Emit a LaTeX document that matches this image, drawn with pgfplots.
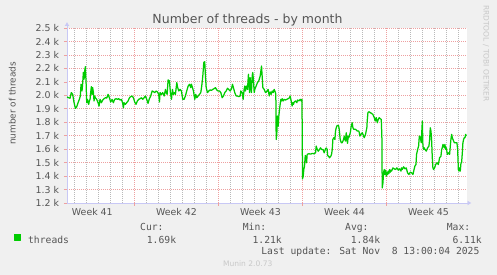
\documentclass[border=0pt]{standalone}
\usepackage{fontspec}
\setmainfont{DejaVu Sans}
\newfontfamily\monofont{DejaVu Sans Mono}
\usepackage{pgfplots}
\pgfplotsset{compat=1.18}
\usetikzlibrary{arrows.meta}
\definecolor{bg}{RGB}{240,240,240}
\definecolor{txt}{RGB}{85,85,85}
\definecolor{mgrid}{RGB}{238,160,160}
\definecolor{ngrid}{RGB}{185,185,185}
\definecolor{axisc}{RGB}{200,200,245}
\definecolor{thr}{RGB}{0,204,0}
\definecolor{faint}{RGB}{200,200,200}
\begin{document}
\begin{tikzpicture}
\path[use as bounding box, fill=bg] (0pt,0pt) rectangle (497pt,275pt);
\begin{axis}[
  at={(67pt,72pt)}, anchor=south west,
  scale only axis, width=400pt, height=175pt,
  xmin=1.39, xmax=34.70, ymin=1.2, ymax=2.5,
  axis background/.style={fill=white},
  axis x line=bottom, axis y line=left,
  axis line style={axisc, line width=0.8pt},
  x axis line style={-{Latex[length=4pt,width=5pt]}, shorten >=-4.5pt},
  y axis line style={-{Latex[length=4pt,width=5pt]}, shorten >=-6pt},
  tick align=outside,
  major tick length=3pt, minor tick length=2.5pt,
  xtick={3.5,10.5,17.5,24.5,31.5},
  xticklabels={Week 41,Week 42,Week 43,Week 44,Week 45},
  xtick style={draw=none},
  minor xtick={2,3,4,5,6,8,9,10,11,12,13,15,16,17,18,19,20,22,23,24,25,26,27,29,30,31,32,33,34},
  minor x tick style={ngrid, line width=0.6pt},
  xminorgrids=true,
  minor grid style={ngrid, dash pattern=on 1pt off 1pt, line width=0.7pt},
  extra x ticks={7,14,21,28},
  extra x tick labels={},
  extra x tick style={grid=major, xtick style={draw=mgrid, line width=0.6pt}},
  ytick={1.2,1.3,1.4,1.5,1.6,1.7,1.8,1.9,2.0,2.1,2.2,2.3,2.4,2.5},
  yticklabels={1.2 k,1.3 k,1.4 k,1.5 k,1.6 k,1.7 k,1.8 k,1.9 k,2.0 k,2.1 k,2.2 k,2.3 k,2.4 k,2.5 k},
  ytick style={mgrid, line width=0.6pt},
  ymajorgrids=true,
  major grid style={mgrid, dash pattern=on 1pt off 1pt, line width=0.7pt},
  yticklabel style={font=\fontsize{9.4}{11}\selectfont, text=txt, inner sep=0pt, anchor=east, xshift=-4.7pt},
  xticklabel style={font=\fontsize{9.4}{11}\selectfont, text=txt, inner sep=0pt, anchor=north, yshift=-2.5pt},
  legend image code/.code={\fill[thr] (0pt,0.6pt) rectangle (6pt,6.6pt);},
  legend style={at={(axis description cs:-0.1325,-0.209)}, anchor=west, draw=none, fill=none,
    inner sep=0pt, font=\monofont\fontsize{9.7}{11}\selectfont, text=txt,
    nodes={inner sep=0pt, text=txt},
    /tikz/every odd column/.append style={column sep=6.7pt}},
]
\addplot[thr, line width=1.25pt, line join=round] coordinates {
(1.39,1.987) (1.53,1.982) (1.64,1.978) (1.75,2.020) (1.86,2.007) (1.98,1.945) (2.09,1.903) (2.20,1.915) (2.31,1.945) (2.42,1.970) (2.50,1.995) (2.56,2.082) (2.64,2.032) (2.70,2.094) (2.75,2.169) (2.81,2.119) (2.86,2.181) (2.92,2.213) (2.98,2.094) (3.03,1.945) (3.09,1.970) (3.14,1.950) (3.20,1.933) (3.25,1.958) (3.31,1.970) (3.36,2.020) (3.42,2.064) (3.48,2.007) (3.53,2.057) (3.59,2.020) (3.64,1.958) (3.70,1.995) (3.75,1.982) (3.86,1.970) (3.98,1.945) (4.06,1.920) (4.14,1.970) (4.25,1.945) (4.36,1.965) (4.48,1.975) (4.59,1.982) (4.70,1.980) (4.81,2.007) (4.92,1.982) (5.03,1.950) (5.14,1.970) (5.25,1.945) (5.36,1.970) (5.48,1.975) (5.59,1.970) (5.70,1.975) (5.81,1.965) (5.92,1.970) (6.03,1.940) (6.09,1.908) (6.14,1.945) (6.25,1.933) (6.36,1.945) (6.48,1.958) (6.59,1.982) (6.70,1.990) (6.81,1.995) (6.92,1.982) (7.03,1.950) (7.14,1.933) (7.25,1.958) (7.36,1.970) (7.48,1.975) (7.59,1.982) (7.70,1.970) (7.81,1.982) (7.92,1.995) (8.03,1.970) (8.14,1.940) (8.25,1.975) (8.36,1.995) (8.48,2.032) (8.59,2.027) (8.70,2.020) (8.81,2.032) (8.92,2.025) (9.03,2.007) (9.09,1.950) (9.14,2.020) (9.25,2.007) (9.36,2.020) (9.48,1.995) (9.59,2.044) (9.64,2.020) (9.73,2.007)
(9.81,2.114) (9.92,2.107) (10.00,2.020) (10.09,1.970) (10.17,2.044) (10.25,2.007) (10.34,2.020) (10.42,2.007) (10.53,2.094) (10.61,2.057) (10.70,2.032) (10.81,2.044) (10.92,2.032) (11.03,1.970) (11.14,1.970) (11.25,1.995) (11.36,2.032) (11.48,2.069) (11.59,2.082) (11.70,2.057) (11.75,2.082) (11.84,2.057) (11.92,2.032) (12.03,1.970) (12.11,2.007) (12.20,1.982) (12.31,1.995) (12.42,2.007) (12.53,2.020) (12.61,2.069) (12.70,2.144) (12.78,2.243) (12.86,2.250) (12.92,2.144) (12.98,2.057) (13.09,2.020) (13.20,2.032) (13.31,2.040) (13.42,2.037) (13.53,2.044) (13.64,2.049) (13.75,2.057) (13.86,2.040) (13.98,2.032) (14.09,2.032) (14.20,2.020) (14.31,1.982) (14.42,1.995) (14.53,2.020) (14.64,2.032) (14.75,2.052) (14.86,2.044) (14.98,2.032) (15.09,2.049) (15.17,2.082) (15.25,2.057) (15.36,2.020) (15.48,1.995) (15.59,1.995) (15.70,1.990) (15.81,1.995) (15.86,2.032) (15.98,2.020) (16.06,1.970) (16.14,2.044) (16.20,2.069) (16.25,2.032) (16.34,2.069) (16.42,2.044) (16.50,2.156) (16.59,2.020) (16.64,2.131) (16.70,2.069) (16.75,2.020) (16.81,2.144) (16.86,2.169) (16.92,2.107) (16.98,2.020) (17.03,2.044) (17.14,2.069) (17.25,2.094) (17.36,2.107) (17.48,2.144) (17.59,2.218) (17.64,2.144) (17.70,2.057) (17.81,2.044) (17.92,2.020) (18.06,2.032)
(18.14,2.044) (18.23,1.995) (18.31,2.025) (18.39,2.007) (18.48,2.032) (18.56,2.020) (18.64,2.044) (18.73,2.025) (18.78,2.007) (18.81,1.672) (18.86,1.710) (18.92,1.846) (18.98,1.771) (19.03,1.846) (19.09,1.896) (19.14,1.933) (19.20,1.970) (19.25,1.958) (19.31,1.975) (19.39,1.958) (19.48,1.970) (19.59,1.965) (19.70,1.970) (19.81,1.975) (19.92,1.982) (19.98,1.995) (20.03,1.970) (20.09,1.945) (20.14,1.920) (20.20,1.945) (20.25,1.933) (20.31,1.950) (20.42,1.958) (20.53,1.945) (20.59,1.965) (20.70,1.958) (20.81,1.970) (20.89,1.958) (20.95,1.970) (20.98,1.747) (21.00,1.379) (21.06,1.399) (21.11,1.449) (21.17,1.474) (21.23,1.553) (21.28,1.536) (21.34,1.499) (21.39,1.561) (21.53,1.566) (21.67,1.563) (21.81,1.568) (21.95,1.566) (22.09,1.573) (22.14,1.623) (22.23,1.598) (22.31,1.585) (22.42,1.598) (22.50,1.610) (22.59,1.598) (22.70,1.598) (22.81,1.573) (22.92,1.603) (22.98,1.608) (23.06,1.598) (23.09,1.553) (23.17,1.548) (23.25,1.536) (23.36,1.548) (23.42,1.561) (23.48,1.598) (23.53,1.672) (23.61,1.685) (23.70,1.672) (23.75,1.734) (23.81,1.759) (23.89,1.776) (24.00,1.776) (24.06,1.747) (24.14,1.672) (24.23,1.648) (24.31,1.648) (24.42,1.672) (24.48,1.697) (24.53,1.672) (24.59,1.660) (24.64,1.722) (24.70,1.685) (24.75,1.643) (24.81,1.697) (24.86,1.685) (24.98,1.722) (25.06,1.771) (25.14,1.796) (25.20,1.759) (25.28,1.747) (25.42,1.747) (25.56,1.734) (25.70,1.734) (25.78,1.697) (25.86,1.710) (25.98,1.722) (26.09,1.697) (26.14,1.685) (26.25,1.710) (26.36,1.759)
(26.39,1.809) (26.45,1.871) (26.53,1.878) (26.64,1.871) (26.75,1.866) (26.86,1.858) (26.98,1.834) (27.06,1.809) (27.14,1.834) (27.23,1.796) (27.31,1.821) (27.39,1.834) (27.48,1.826) (27.56,1.821) (27.61,1.697) (27.64,1.312) (27.70,1.350) (27.75,1.424) (27.81,1.449) (27.86,1.412) (27.92,1.444) (27.98,1.399) (28.03,1.429) (28.09,1.412) (28.14,1.437) (28.20,1.419) (28.25,1.449) (28.31,1.429) (28.36,1.444) (28.42,1.437) (28.53,1.461) (28.64,1.454) (28.75,1.449) (28.86,1.461) (28.98,1.444) (29.09,1.454) (29.20,1.437) (29.25,1.461) (29.31,1.449) (29.42,1.469) (29.53,1.454) (29.64,1.461) (29.75,1.424) (29.86,1.412) (29.98,1.429) (30.09,1.424) (30.20,1.412) (30.28,1.444) (30.36,1.474) (30.45,1.486) (30.50,1.561) (30.59,1.598) (30.67,1.623) (30.73,1.697) (30.78,1.692) (30.84,1.672) (30.89,1.648) (30.98,1.809) (31.03,1.623) (31.09,1.598) (31.14,1.610) (31.20,1.598) (31.31,1.585) (31.42,1.610) (31.53,1.623) (31.59,1.672) (31.64,1.759) (31.70,1.734) (31.75,1.672) (31.81,1.536) (31.86,1.461) (31.92,1.449) (32.00,1.461) (32.09,1.486) (32.20,1.499) (32.31,1.486) (32.42,1.536) (32.53,1.548) (32.59,1.598) (32.64,1.610) (32.70,1.635) (32.75,1.623) (32.81,1.610) (32.86,1.635) (32.92,1.598) (32.98,1.610) (33.06,1.561) (33.14,1.573) (33.25,1.561) (33.31,1.623) (33.36,1.672) (33.42,1.710) (33.48,1.685) (33.53,1.672) (33.59,1.660) (33.64,1.648) (33.75,1.648) (33.86,1.648) (33.92,1.598) (33.98,1.449) (34.03,1.437) (34.09,1.461) (34.14,1.437) (34.20,1.499) (34.25,1.499) (34.31,1.573) (34.36,1.648) (34.42,1.672) (34.47,1.685) (34.53,1.685) (34.59,1.710) (34.64,1.697)
};
\addlegendentry{threads}
\end{axis}
\node[anchor=base, inner sep=0pt, text=txt, font=\fontsize{12.5}{14}\selectfont] at (247.5pt,251pt) {Number of threads - by month};
\node[anchor=base, rotate=90, inner sep=0pt, text=txt, font=\fontsize{8.9}{10}\selectfont] at (15.7pt,171.5pt) {number of threads};
\begin{scope}[every node/.style={anchor=base west, inner sep=0pt, text=txt, font=\monofont\fontsize{9.7}{11}\selectfont}]
\node at (140pt,44pt) {Cur:};
\node at (146.7pt,31.7pt) {1.69k};
\node at (242.7pt,44pt) {Min:};
\node at (252.4pt,31.7pt) {1.21k};
\node at (345pt,44pt) {Avg:};
\node at (350.7pt,31.7pt) {1.84k};
\node at (446.7pt,44pt) {Max:};
\node at (452.3pt,31.7pt) {6.11k};
\node at (261.2pt,20pt) {Last update: Sat Nov\ \ 8 13:00:04 2025};
\end{scope}
\node[anchor=base west, inner sep=0pt, text=faint, font=\fontsize{7.55}{9}\selectfont] at (222.8pt,8pt) {Munin 2.0.73};
\node[anchor=base west, rotate=-90, inner sep=0pt, text=faint, font=\fontsize{7.5}{9}\selectfont] at (483.7pt,270pt) {RRDTOOL / TOBI OETIKER};
\end{tikzpicture}
\end{document}
